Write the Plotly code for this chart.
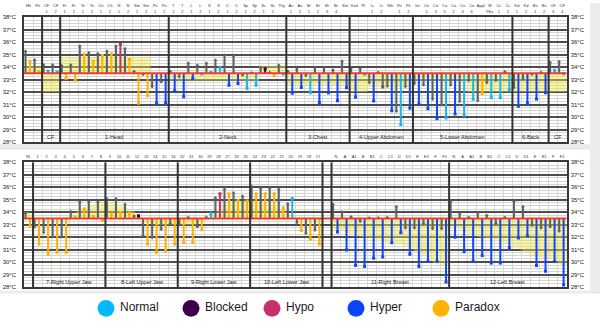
import plotly.graph_objects as go

BASE = 33.5
W, H = 600, 328

# ---------------- top panel data ----------------
top_labels = ["Hh<br> ", "Fh<br> ", "CF<br>1", "CF<br>2", "Fr<br>1", "Fr<br>2", "Te<br>1", "Te<br>2", "Ch<br>1", "Ch<br>2",
              "N<br>1", "N<br>2", "Sm<br>1", "Sm<br>2", "Pn<br>1", "Pn<br>2",
              "T<br>1", "T<br>2", "L<br>1", "L<br>2", "S<br>1", "S<br>2", "C<br>1", "C<br>2", "Sp<br>1", "Sp<br>2",
              "Sc<br>1", "Sc<br>2", "Thy<br> ",
              "Ax<br>1", "Ax<br>2", "Br<br>1", "Br<br>2", "Br<br>3", "Br<br>4", "Stn<br> ",
              "Xed<br> ", "Pl<br> ", "Li<br>1", "Li<br>2", "Sth<br> ", "Pn<br>1", "Pn<br>2",
              "Int<br> ", "Co<br>1", "Co<br>3", "Co<br>5", "Co<br>2", "Co<br>4", "Co<br>6", "Appl<br> ", "Sf<br>Pbs",
              "Cc<br>1", "Cc<br>2",
              "Kd<br>1", "Kd<br>2", "Bs<br>1", "Bs<br>2",
              "CF<br>3", "CF<br>4"]
top_gray = [35.3, 34.6, 34.2, 34.2, 34.13, 34.2, 35.7, 35.18, 35.1, 35.29, 35.7, 35.5, 33.68, 33.4, 32.42, 32.8,
            33.68, 33.2, 34.34, 34.18, 34.34, 34.58, 34.97, 34.92, 33.34, 33.55, 33.95, 33.6, 34.18,
            33.68, 33.87, 33.3, 33.97, 33.97, 33.8, 34.5,
            33.95, 33.92, 32.74, 33.6, 32.45, 30.45, 32.42,
            32.68, 32.55, 31.42, 30.97, 32.55, 31.24, 32.92, 31.29, 32.74, 32.92, 33.66,
            32.34, 33.08, 33.4, 33.6,
            34.39, 34.45]
top_after = [34.47, 33.65, 33.68, 33.6, 33.08, 32.95, 35.0, 34.47, 34.92, 35.05, 35.8, 34.6, 31.1, 31.7, 31.1, 31.1,
             32.08, 31.63, 33.08, 33.45, 33.56, 33.95, 32.55, 32.68, 32.29, 32.55, 33.87, 33.3, 33.45,
             31.9, 32.37, 31.95, 31.16, 31.95, 31.3, 32.34,
             31.58, 33.42, 31.29, 32.4, 30.5, 29.4, 30.71,
             31.03, 30.66, 29.87, 29.92, 30.24, 30.13, 31.42, 31.89, 31.55, 31.55, 32.16,
             30.87, 31.1, 31.45, 31.95,
             33.74, 33.47]
top_status = ["Paradox", "Paradox", "Normal", "Normal", "Paradox", "Paradox", "Paradox", "Paradox", "Paradox",
              "Paradox", "Hypo", "Paradox", "Paradox", "Paradox", "Hyper", "Hyper",
              "Hyper", "Hyper", "Hyper", "Normal", "Normal", "Normal", "Hyper", "Hyper", "Normal", "Normal",
              "Blocked", "Paradox", "Normal",
              "Hyper", "Hyper", "Normal", "Hyper", "Hyper", "Hyper", "Hyper",
              "Hyper", "Normal", "Hyper", "None", "Hyper", "Normal", "Hyper",
              "Hyper", "Hyper", "Hyper", "Normal", "Hyper", "Normal", "Normal", "Paradox", "Normal", "Normal",
              "Normal",
              "Hyper", "Hyper", "Hyper", "Hyper",
              "Normal", "Normal"]
top_band = [34.1, 34.1, 32.0, 32.0] + [34.8] * 10 + [33.5, 33.5] + [32.9] * 10 + [34.1] * 3 + \
           [32.5] * 7 + [32.0, 32.0] + [32.4] * 5 + [32.9] * 6 + [32.0] * 5 + [32.0] * 4 + [32.0, 32.0]
top_sections = ["", "CF", "1-Head", "2-Neck", "3-Chest", "4-Upper Abdomen", "5-Lower Abdomen", "6-Back", "CF"]
top_section_sizes = [2, 2, 12, 13, 7, 7, 11, 4, 2]

# ---------------- bottom panel data ----------------
bot_labels = ["RL", "1", "2", "3", "4", "5", "6", "7", "8", "9", "10", "11", "12", "13", "14", "15", "16",
              "32", "31", "30", "29", "28", "27", "26", "25", "24", "23", "22", "21", "20", "19", "18", "17",
              "",
              "N", "A", "A1", "B", "B1", "C", "C1", "D", "D1", "E", "E1", "F", "F1",
              "N", "A", "A1", "B", "B1", "C", "C1", "D", "D1", "E", "E1", "F", "F1"]
bot_gray = [33.93, 32.8, 32.36, 32.0, 32.0, 34.09, 34.85, 34.85, 34.85, 35.1, 35.1, 34.64, 33.72, 32.07, 31.94,
            32.6, 33.07, 33.0, 33.6, 32.8, 33.62, 35.17, 35.87, 35.56, 35.3, 36.08, 35.95, 35.95, 35.87, 34.69,
            33.14, 32.28, 32.54, None,
            34.64, 34.04, 33.64, 33.25, 33.56, 33.56, 33.6, 34.46, 32.72, 32.72, 33.07, 32.67, 32.67,
            34.9, 33.9, 33.6, 33.98, 33.77, 33.07, 33.6, 34.9, 34.46, 32.93, 32.72, 32.8, 32.46]
bot_after = [32.88, 31.44, 30.62, 30.78, 30.76, 33.6, 34.25, 33.67, 33.38, 33.83, 33.98, 33.9, 33.72, 31.44,
             30.76, 30.89, 31.44, 31.57, 31.57, 32.6, 33.9, 35.48, 35.48, 34.96, 34.9, 35.48, 35.48, 35.48,
             34.33, 35.09, 32.54, 31.83, 31.44, None,
             32.41, 30.97, 29.73, 29.65, 30.31, 30.41, 31.54, 32.35, 30.62, 29.65, 30.05, 30.05, 28.4,
             32.0, 30.83, 30.05, 30.52, 29.92, 29.92, 31.15, 31.94, 32.1, 29.73, 29.26, 30.05, 28.16]
bot_status = ["Paradox"] * 12 + ["Blocked"] + ["Paradox"] * 7 + ["Normal", "Hypo"] + ["Paradox"] * 7 + \
             ["Normal", "Paradox", "Paradox", "Paradox", "None"] + ["Hyper"] * 26
bot_band = [34.0, 33.45, 33.45, 33.45, 33.6, 33.9, 34.3, 34.55, 34.75, 34.8, 34.65, 34.3, 33.9, 33.3, 33.0,
            33.0, 33.0, 33.0, 33.0, 33.1, 33.6, 34.1, 34.7, 34.85, 34.9, 34.9, 34.75, 34.55, 34.2, 33.8, 33.5,
            33.5, 33.5, 33.5,
            32.55, 32.4, 32.2, 32.0, 31.9, 31.65, 31.55, 31.45, 31.2, 30.8, 30.4, 29.9, 29.65,
            32.9, 32.55, 32.15, 32.0, 31.9, 31.75, 31.4, 31.1, 30.8, 30.5, 30.3, 30.2, 29.7]
bot_sections = ["", "7-Right Upper Jaw", "8-Left Upper Jaw", "9-Right Lower Jaw", "10-Left Lower Jaw", "",
                "11-Right Breast", "12-Left Breast"]
bot_section_sizes = [1, 8, 8, 8, 8, 1, 13, 13]

legend_names = ["Normal", "Blocked", "Hypo", "Hyper", "Paradox"]
legend_colors = ["#00b9ff", "#3b0047", "#c7306a", "#0a44ff", "#ffb300"]
stem_colors = {"Normal": "#19b4f2", "Blocked": "#3b0047", "Hypo": "#c7306a", "Hyper": "#1046f5",
               "Paradox": "#ffb000", "None": "#5b6265"}
GRAY = "#5b6265"
YELLOW = "rgba(240,228,70,0.45)"
FONT = "Liberation Sans"

fig = go.Figure()


def add_band_step(xa, ya, band):
    n = len(band)
    fig.add_trace(go.Scatter(x=[0, n], y=[BASE, BASE], mode="lines", line=dict(width=0),
                             xaxis=xa, yaxis=ya, hoverinfo="skip", showlegend=False))
    fig.add_trace(go.Scatter(x=list(range(n + 1)), y=band + [band[-1]], mode="lines",
                             line=dict(width=0, shape="hv"), fill="tonexty", fillcolor=YELLOW,
                             xaxis=xa, yaxis=ya, hoverinfo="skip", showlegend=False))


def add_band_spline(xa, ya, band, groups):
    for s, e in groups:
        vals = band[s:e]
        fig.add_trace(go.Scatter(x=[s, e], y=[BASE, BASE], mode="lines", line=dict(width=0),
                                 xaxis=xa, yaxis=ya, hoverinfo="skip", showlegend=False))
        xs = [s] + [i + 0.5 for i in range(s, e)] + [e]
        ys = [vals[0]] + vals + [vals[-1]]
        fig.add_trace(go.Scatter(x=xs, y=ys, mode="lines", line=dict(width=0, shape="spline", smoothing=0.8),
                                 fill="tonexty", fillcolor=YELLOW,
                                 xaxis=xa, yaxis=ya, hoverinfo="skip", showlegend=False))


def add_stems(xa, ya, vals, idxs, offset, color, gray_caps):
    xs, ys, mx, my, sym = [], [], [], [], []
    for i in idxs:
        v = vals[i]
        if v is None:
            continue
        xs += [i + offset, i + offset, None]
        ys += [BASE, v, None]
        mx.append(i + offset)
        my.append(v)
        if gray_caps:
            sym.append("triangle-up" if v >= BASE else "triangle-down")
        else:
            sym.append("square")
    if not mx:
        return
    fig.add_trace(go.Scatter(x=xs, y=ys, mode="lines", line=dict(color=color, width=2),
                             xaxis=xa, yaxis=ya, hoverinfo="skip", showlegend=False))
    fig.add_trace(go.Scatter(x=mx, y=my, mode="markers",
                             marker=dict(color=color, size=3.3 if gray_caps else 3, symbol=sym, line=dict(width=0)),
                             xaxis=xa, yaxis=ya, hoverinfo="skip", showlegend=False))


def panel(xa, ya, gray, after, status, band, sections, sizes, step):
    n = len(gray)
    if step:
        add_band_step(xa, ya, band)
    else:
        groups, s = [], 0
        for name, sz in zip(sections, sizes):
            if name:
                groups.append((s, s + sz))
            s += sz
        merged = [(0, groups[3][1])] + groups[4:]
        add_band_spline(xa, ya, band, merged)
    add_stems(xa, ya, gray, range(n), 0.17, GRAY, True)
    for st in ["None", "Normal", "Blocked", "Hypo", "Hyper", "Paradox"]:
        idx = [i for i in range(n) if status[i] == st]
        add_stems(xa, ya, after, idx, 0.66, stem_colors[st], False)
    fig.add_trace(go.Scatter(x=[0, n], y=[BASE, BASE], mode="lines", line=dict(color="#f23c2a", width=2),
                             xaxis=xa, yaxis=ya, hoverinfo="skip", showlegend=False))
    s = 0
    for name, sz in zip(sections, sizes):
        if s > 0:
            fig.add_shape(type="line", xref=xa, yref=ya, x0=s, x1=s, y0=28, y1=38,
                          line=dict(color="#333333", width=2), layer="above")
        if name:
            fig.add_annotation(x=s + sz / 2, y=28.42, xref=xa, yref=ya, text=name, showarrow=False,
                               font=dict(size=5.5, color="#222", family=FONT), yanchor="middle")
        s += sz


panel("x", "y", top_gray, top_after, top_status, top_band, top_sections, top_section_sizes, True)
panel("x2", "y2", bot_gray, bot_after, bot_status, bot_band, bot_sections, bot_section_sizes, False)

fig.add_trace(go.Scatter(x=[0], y=[33], xaxis="x", yaxis="y3", mode="markers", marker=dict(opacity=0),
                         hoverinfo="skip", showlegend=False))
fig.add_trace(go.Scatter(x=[0], y=[33], xaxis="x2", yaxis="y4", mode="markers", marker=dict(opacity=0),
                         hoverinfo="skip", showlegend=False))

xdom = [24 / W, 566.7 / W]
ydom_top = [1 - 141.7 / H, 1 - 14.3 / H]
ydom_bot = [1 - 289.3 / H, 1 - 162.3 / H]

tickfont = dict(size=6, color="#1a1a1a", family=FONT)


def xaxis_cfg(labels, anchor):
    n = len(labels)
    return dict(domain=xdom, anchor=anchor, range=[0, n], side="top",
                tickmode="array", tickvals=[i + 0.5 for i in range(n)], ticktext=labels,
                tickfont=dict(size=4, color="#333", family=FONT), tickangle=0, ticks="",
                ticklabelstandoff=1,
                showgrid=False, zeroline=False, showline=True, mirror=True,
                linecolor="#3a3a3a", linewidth=1.5,
                minor=dict(tickmode="array", tickvals=list(range(n + 1)), showgrid=True,
                           gridcolor="#d6d9cc", gridwidth=1, ticks=""))


def yaxis_cfg(dom, anchor):
    return dict(domain=dom, anchor=anchor, range=[28, 38], dtick=1, tick0=28, ticksuffix="°C",
                tickfont=tickfont, ticks="", ticklabelstandoff=5,
                showgrid=True, gridcolor="#4d4d4d", gridwidth=1.6, zeroline=False,
                showline=True, mirror=True, linecolor="#3a3a3a", linewidth=1.5,
                minor=dict(dtick=0.25, showgrid=True, gridcolor="#d4d4d4", gridwidth=1))


def yaxis_right(over, anchor):
    return dict(overlaying=over, anchor=anchor, side="right", range=[28, 38], dtick=1, tick0=28,
                ticksuffix="°C", tickfont=tickfont, ticks="", ticklabelstandoff=3,
                showgrid=False, zeroline=False, showline=False)


shapes = [
    dict(type="rect", xref="paper", yref="paper", x0=590 / W, x1=1, y0=1 - 296 / H, y1=1,
         fillcolor="#ebebeb", line=dict(width=0), layer="below"),
    dict(type="rect", xref="paper", yref="paper", x0=0, x1=1, y0=1 - 149.5 / H, y1=1 - 143.5 / H,
         fillcolor="#ebebeb", line=dict(width=0), layer="below"),
    dict(type="rect", xref="paper", yref="paper", x0=0, x1=1, y0=1 - 296 / H, y1=1 - 292.8 / H,
         fillcolor="#ebebeb", line=dict(width=0), layer="below"),
]

legend_cx = [106, 191, 272, 356, 441]
legend_cy = 311
r = 8.5
annotations = []
for name, col, cx in zip(legend_names, legend_colors, legend_cx):
    shapes.append(dict(type="circle", xref="paper", yref="paper",
                       x0=(cx - r) / W, x1=(cx + r) / W, y0=1 - (legend_cy + r) / H, y1=1 - (legend_cy - r) / H,
                       fillcolor=col, line=dict(width=0)))
    annotations.append(dict(x=(cx + 12) / W, y=1 - (legend_cy - 1) / H, xref="paper", yref="paper",
                            text=name, showarrow=False, xanchor="left", yanchor="middle",
                            font=dict(size=12, color="#1a1a1a", family=FONT)))

fig.update_layout(
    width=W, height=H, margin=dict(l=0, r=0, t=0, b=0),
    paper_bgcolor="white", plot_bgcolor="white", showlegend=False,
    xaxis=xaxis_cfg(top_labels, "y"),
    yaxis=yaxis_cfg(ydom_top, "x"),
    xaxis2=xaxis_cfg(bot_labels, "y2"),
    yaxis2=yaxis_cfg(ydom_bot, "x2"),
    yaxis3=yaxis_right("y", "x"),
    yaxis4=yaxis_right("y2", "x2"),
)
for s in shapes:
    fig.add_shape(**s)
for a in annotations:
    fig.add_annotation(**a)

fig.write_html("out.html")
